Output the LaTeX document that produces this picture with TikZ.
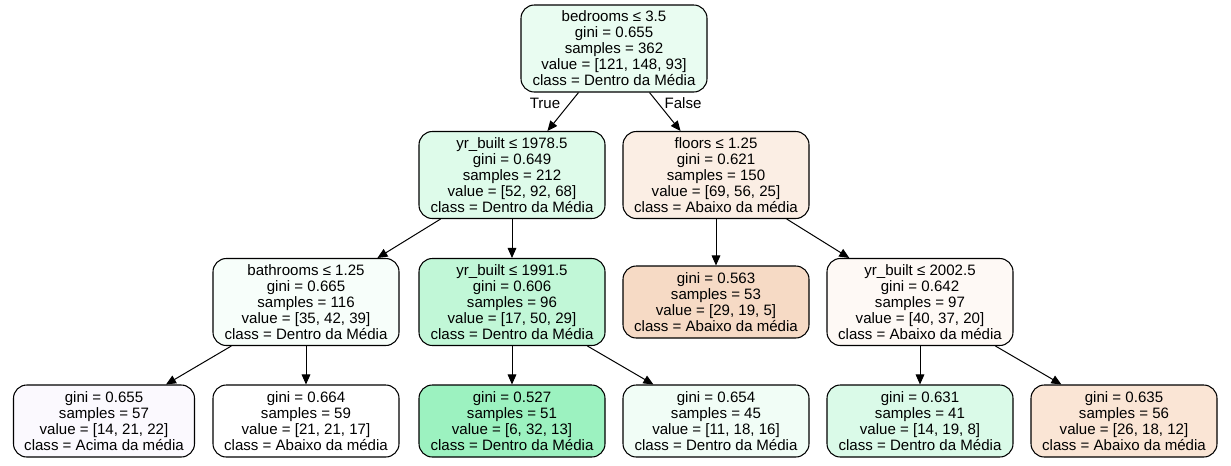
\documentclass[tikz,border=0pt]{standalone}
\usepackage{fontspec}
\setmainfont{Liberation Sans}
\usetikzlibrary{arrows.meta}
\definecolor{cRoot}{RGB}{233,252,241}
\definecolor{cLa}{RGB}{222,251,234}
\definecolor{cLb}{RGB}{251,238,228}
\definecolor{cBath}{RGB}{247,254,250}
\definecolor{cYrA}{RGB}{193,247,215}
\definecolor{cGa}{RGB}{246,218,197}
\definecolor{cYrB}{RGB}{254,249,245}
\definecolor{cA}{RGB}{251,249,254}
\definecolor{cB}{RGB}{255,255,255}
\definecolor{cC}{RGB}{156,242,192}
\definecolor{cD}{RGB}{241,253,246}
\definecolor{cE}{RGB}{218,250,232}
\definecolor{cF}{RGB}{250,229,213}
\tikzset{
  treenode/.style={draw=black, line width=0.8pt, rounded corners=10pt, inner sep=0pt,
    align=center, minimum width=139.5pt, font=\fontsize{11.3}{12}\selectfont},
  fivel/.style={treenode, minimum height=65.25pt},
  fourl/.style={treenode, minimum height=54pt},
  edge/.style={line width=0.75pt, -{Triangle[length=7.5pt,width=6.5pt]}},
  elabel/.style={font=\fontsize{11.3}{12}\selectfont, inner sep=0pt}
}
\begin{document}
\begin{tikzpicture}[x=0.75pt,y=-0.75pt]
\useasboundingbox[fill=white] (0,0) rectangle (1231,465);
% level 0
\node[fivel, fill=cRoot] (root) at (614,48.5) {bedrooms ≤ 3.5\\gini = 0.655\\samples = 362\\value = [121, 148, 93]\\class = Dentro da Média};
% level 1
\node[fivel, fill=cLa] (la) at (512,175) {yr\_built ≤ 1978.5\\gini = 0.649\\samples = 212\\value = [52, 92, 68]\\class = Dentro da Média};
\node[fivel, fill=cLb] (lb) at (716,175) {floors ≤ 1.25\\gini = 0.621\\samples = 150\\value = [69, 56, 25]\\class = Abaixo da média};
% level 2
\node[fivel, fill=cBath] (bath) at (306,302) {bathrooms ≤ 1.25\\gini = 0.665\\samples = 116\\value = [35, 42, 39]\\class = Dentro da Média};
\node[fivel, fill=cYrA] (yra) at (512,302) {yr\_built ≤ 1991.5\\gini = 0.606\\samples = 96\\value = [17, 50, 29]\\class = Dentro da Média};
\node[fourl, fill=cGa] (ga) at (716,302) {gini = 0.563\\samples = 53\\value = [29, 19, 5]\\class = Abaixo da média};
\node[fivel, fill=cYrB] (yrb) at (920,302) {yr\_built ≤ 2002.5\\gini = 0.642\\samples = 97\\value = [40, 37, 20]\\class = Abaixo da média};
% level 3
\node[fourl, fill=cA, minimum width=135.75pt] (a) at (104,421) {gini = 0.655\\samples = 57\\value = [14, 21, 22]\\class = Acima da média};
\node[fourl, fill=cB] (b) at (306,421) {gini = 0.664\\samples = 59\\value = [21, 21, 17]\\class = Abaixo da média};
\node[fourl, fill=cC] (c) at (512,421) {gini = 0.527\\samples = 51\\value = [6, 32, 13]\\class = Dentro da Média};
\node[fourl, fill=cD] (d) at (716,421) {gini = 0.654\\samples = 45\\value = [11, 18, 16]\\class = Dentro da Média};
\node[fourl, fill=cE] (e) at (920,421) {gini = 0.631\\samples = 41\\value = [14, 19, 8]\\class = Dentro da Média};
\node[fourl, fill=cF] (f) at (1124,421) {gini = 0.635\\samples = 56\\value = [26, 18, 12]\\class = Abaixo da média};
% edges
\draw[edge] (root) -- (la);
\draw[edge] (root) -- (lb);
\draw[edge] (la) -- (bath);
\draw[edge] (la) -- (yra);
\draw[edge] (lb) -- (ga);
\draw[edge] (lb) -- (yrb);
\draw[edge] (bath) -- (a);
\draw[edge] (bath) -- (b);
\draw[edge] (yra) -- (c);
\draw[edge] (yra) -- (d);
\draw[edge] (yrb) -- (e);
\draw[edge] (yrb) -- (f);
% edge labels
\node[elabel] (ltrue) at (545,103) {True};
\node[elabel] (lfalse) at (683,103) {False};
\end{tikzpicture}
\end{document}
